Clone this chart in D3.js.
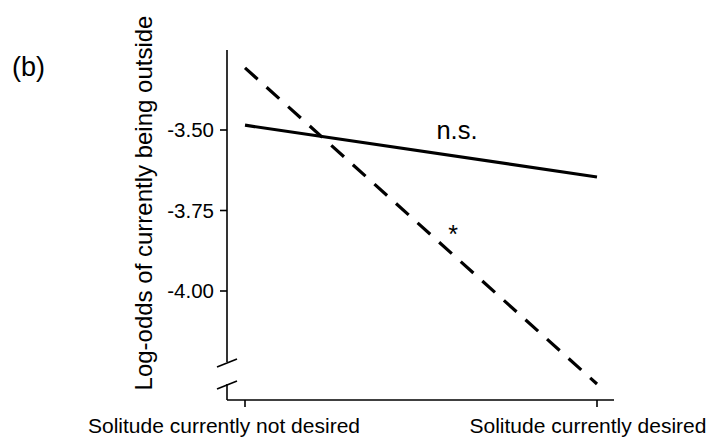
<!DOCTYPE html>
<html>
<head>
<meta charset="utf-8">
<script src="https://cdn.jsdelivr.net/npm/d3@7"></script>
<style>
  body { margin: 0; background: #fff; }
  text { font-family: "Liberation Sans", Arial, sans-serif; fill: #000; }
</style>
</head>
<body>
<svg id="chart"></svg>
<script>
const svg = d3.select("#chart").attr("width", 725).attr("height", 440);

// data
const categories = ["Solitude currently not desired", "Solitude currently desired"];
const solidValues = [-3.485, -3.646];   // n.s.
const dashedValues = [-3.307, -4.289];  // *
const yTicks = [-3.50, -3.75, -4.00];

const x = d3.scalePoint().domain(categories).range([245, 597]);
const y = d3.scaleLinear().domain([-3.25, -4.25]).range([49.5, 371.5]);

const axisX = 227, axisBottom = 400;

/* -------- y axis (with break) -------- */
svg.append("line")
  .attr("x1", axisX).attr("x2", axisX)
  .attr("y1", 50).attr("y2", 362)
  .attr("stroke", "#000").attr("stroke-width", 1.6);
svg.append("line")
  .attr("x1", axisX).attr("x2", axisX)
  .attr("y1", 384).attr("y2", axisBottom)
  .attr("stroke", "#000").attr("stroke-width", 1.6);

svg.selectAll("line.brk")
  .data([363, 385])
  .enter().append("line")
  .attr("class", "brk")
  .attr("x1", 217).attr("y1", d => d + 4)
  .attr("x2", 237).attr("y2", d => d - 4)
  .attr("stroke", "#000").attr("stroke-width", 1.6);

const yTickG = svg.selectAll("g.ytick")
  .data(yTicks)
  .enter().append("g")
  .attr("class", "ytick")
  .attr("transform", d => `translate(${axisX},${y(d)})`);
yTickG.append("line")
  .attr("x1", -7).attr("x2", 0)
  .attr("stroke", "#000").attr("stroke-width", 1.6);
yTickG.append("text")
  .attr("x", -13).attr("dy", "0.36em")
  .attr("text-anchor", "end")
  .attr("font-size", 20.5)
  .text(d => d.toFixed(2));

/* -------- x axis -------- */
svg.append("line")
  .attr("x1", axisX).attr("x2", 614)
  .attr("y1", axisBottom).attr("y2", axisBottom)
  .attr("stroke", "#000").attr("stroke-width", 1.6);

const xTickG = svg.selectAll("g.xtick")
  .data(categories)
  .enter().append("g")
  .attr("class", "xtick")
  .attr("transform", d => `translate(${x(d)},${axisBottom})`);
xTickG.append("line")
  .attr("y1", 0).attr("y2", 7)
  .attr("stroke", "#000").attr("stroke-width", 1.6);
xTickG.append("text")
  .attr("x", (d, i) => i === 0 ? -21 : -9)
  .attr("y", 33)
  .attr("text-anchor", "middle")
  .attr("font-size", 21)
  .text(d => d);

/* -------- lines -------- */
const line = d3.line()
  .x((d, i) => x(categories[i]))
  .y(d => y(d));

svg.append("path")
  .attr("d", line(solidValues))
  .attr("fill", "none")
  .attr("stroke", "#000")
  .attr("stroke-width", 3.2);

svg.append("path")
  .attr("d", line(dashedValues))
  .attr("fill", "none")
  .attr("stroke", "#000")
  .attr("stroke-width", 3.2)
  .attr("stroke-dasharray", "17,12");

/* -------- annotations -------- */
svg.append("text")
  .attr("x", 457).attr("y", 139)
  .attr("text-anchor", "middle")
  .attr("font-size", 25.5)
  .text("n.s.");

svg.append("text")
  .attr("x", 453).attr("y", 243)
  .attr("text-anchor", "middle")
  .attr("font-size", 25)
  .text("*");

svg.append("text")
  .attr("x", 12).attr("y", 76)
  .attr("font-size", 27)
  .text("(b)");

svg.append("text")
  .attr("transform", "translate(152,203) rotate(-90)")
  .attr("text-anchor", "middle")
  .attr("font-size", 24)
  .text("Log-odds of currently being outside");
</script>
</body>
</html>
